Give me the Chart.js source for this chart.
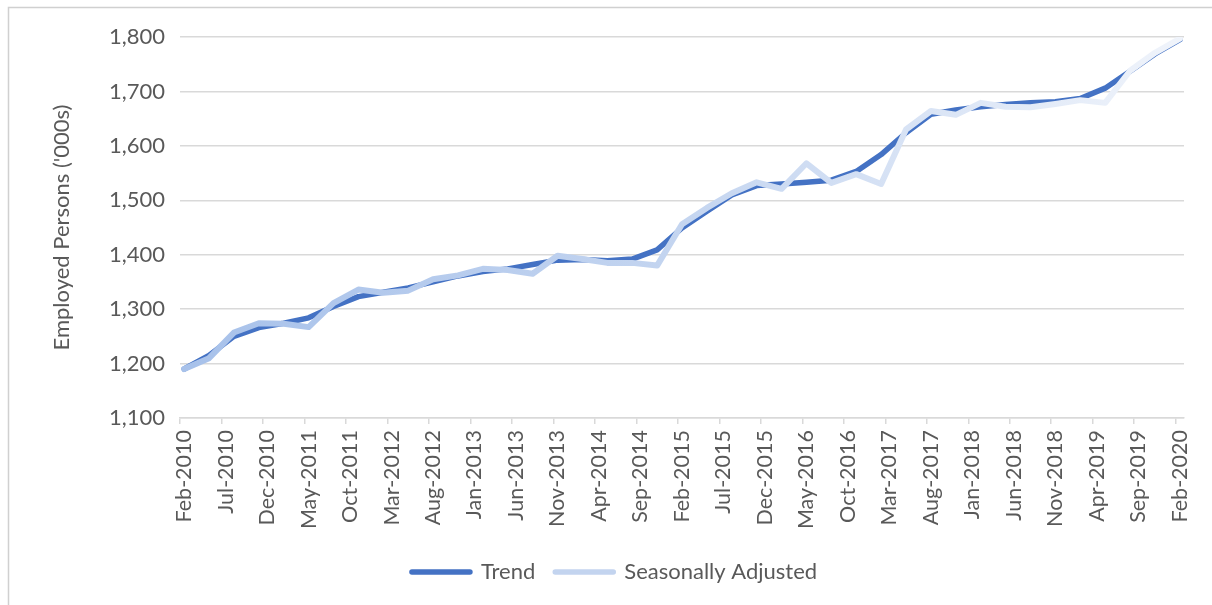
<!DOCTYPE html>
<html>
<head>
<meta charset="utf-8">
<title>Employed Persons</title>
<script src="https://cdn.jsdelivr.net/npm/chart.js@4.4.1/dist/chart.umd.min.js"></script>
<style>
  html, body { margin: 0; padding: 0; background: #ffffff; }
  #wrap { position: relative; width: 1212px; height: 605px; }
  canvas { display: block; }
</style>
</head>
<body>
<div id="wrap"><canvas id="chart" width="1212" height="605"></canvas></div>
<script>
// Monthly category axis, Feb-2010 to Feb-2020
const MONTH_NAMES = ['Jan', 'Feb', 'Mar', 'Apr', 'May', 'Jun', 'Jul', 'Aug', 'Sep', 'Oct', 'Nov', 'Dec'];
const months = [];
for (let yr = 2010; yr <= 2020; yr++) {
  for (let m = 0; m < 12; m++) {
    if ((yr === 2010 && m < 1) || (yr === 2020 && m > 1)) continue;
    months.push(MONTH_NAMES[m] + '-' + yr);
  }
}

// Labels shown under every fifth month
const tickLabels = [
  'Feb-2010', 'Jul-2010', 'Dec-2010', 'May-2011', 'Oct-2011', 'Mar-2012', 'Aug-2012',
  'Jan-2013', 'Jun-2013', 'Nov-2013', 'Apr-2014', 'Sep-2014', 'Feb-2015', 'Jul-2015',
  'Dec-2015', 'May-2016', 'Oct-2016', 'Mar-2017', 'Aug-2017', 'Jan-2018', 'Jun-2018',
  'Nov-2018', 'Apr-2019', 'Sep-2019', 'Feb-2020'
];

// Quarterly observation months
const quarters = [
  'Feb-2010', 'May-2010', 'Aug-2010', 'Nov-2010',
  'Feb-2011', 'May-2011', 'Aug-2011', 'Nov-2011',
  'Feb-2012', 'May-2012', 'Aug-2012', 'Nov-2012',
  'Feb-2013', 'May-2013', 'Aug-2013', 'Nov-2013',
  'Feb-2014', 'May-2014', 'Aug-2014', 'Nov-2014',
  'Feb-2015', 'May-2015', 'Aug-2015', 'Nov-2015',
  'Feb-2016', 'May-2016', 'Aug-2016', 'Nov-2016',
  'Feb-2017', 'May-2017', 'Aug-2017', 'Nov-2017',
  'Feb-2018', 'May-2018', 'Aug-2018', 'Nov-2018',
  'Feb-2019', 'May-2019', 'Aug-2019', 'Nov-2019',
  'Feb-2020'
];

// Employed persons ('000s)
const trend = [
  1190, 1215, 1250, 1266,
  1274, 1284, 1305, 1323,
  1331, 1339, 1350, 1361,
  1369, 1374, 1382, 1390,
  1391, 1389, 1392, 1409,
  1449, 1480, 1510, 1527,
  1530, 1533, 1537, 1553,
  1584, 1624, 1658, 1666,
  1672, 1676, 1679, 1681,
  1687, 1706, 1737, 1769,
  1795
];

const seasonallyAdjusted = [
  1190, 1210, 1257, 1274,
  1273, 1267, 1311, 1336,
  1330, 1334, 1355, 1362,
  1374, 1372, 1365, 1398,
  1392, 1385, 1385, 1380,
  1456, 1486, 1513, 1533,
  1521, 1568, 1532, 1548,
  1530, 1630, 1664, 1657,
  1679, 1672, 1671, 1677,
  1684, 1679, 1738, 1771,
  1797
];

const FONT = 'Lato, "Liberation Sans", sans-serif';
const TEXT = '#595959';
const GRID = '#d9d9d9';
const TREND_COLOR = '#4472c4';
const SA_SWATCH = '#c3d4ef';

// Light-blue line fading towards white from left to right
function saGradient(context) {
  const chart = context.chart;
  const area = chart.chartArea;
  if (!area) return SA_SWATCH;
  const g = chart.ctx.createLinearGradient(area.left, 0, area.right, 0);
  g.addColorStop(0, '#a7c1ea');
  g.addColorStop(0.5, '#c4d5f0');
  g.addColorStop(1, '#f0f4fb');
  return g;
}

// White page with a thin frame along the top and left edges
const framePlugin = {
  id: 'frame',
  beforeDraw(chart) {
    const c = chart.ctx;
    c.save();
    c.fillStyle = '#ffffff';
    c.fillRect(0, 0, chart.width, chart.height);
    c.strokeStyle = '#d0d0d0';
    c.lineWidth = 1.5;
    c.beginPath();
    c.moveTo(8.5, chart.height);
    c.lineTo(8.5, 7.5);
    c.lineTo(chart.width, 7.5);
    c.stroke();
    c.restore();
  }
};

new Chart(document.getElementById('chart'), {
  type: 'line',
  data: {
    labels: months,
    datasets: [
      {
        label: 'Trend',
        data: quarters.map((q, i) => ({ x: q, y: trend[i] })),
        borderColor: TREND_COLOR,
        borderWidth: 5.5,
        borderCapStyle: 'round',
        borderJoinStyle: 'round',
        pointRadius: 0,
        tension: 0,
        order: 1
      },
      {
        label: 'Seasonally Adjusted',
        data: quarters.map((q, i) => ({ x: q, y: seasonallyAdjusted[i] })),
        borderColor: saGradient,
        borderWidth: 6,
        borderCapStyle: 'round',
        borderJoinStyle: 'round',
        pointRadius: 0,
        tension: 0,
        order: 0
      }
    ]
  },
  options: {
    responsive: false,
    animation: false,
    devicePixelRatio: 1,
    layout: { padding: { left: 17, right: 0, top: 37, bottom: 12 } },
    plugins: {
      tooltip: { enabled: false },
      legend: {
        position: 'bottom',
        labels: {
          usePointStyle: true,
          pointStyleWidth: 58,
          padding: 20,
          color: TEXT,
          font: { family: FONT, size: 22 },
          generateLabels(chart) {
            const swatches = [TREND_COLOR, SA_SWATCH];
            return chart.data.datasets.map((ds, i) => ({
              text: ds.label,
              pointStyle: 'line',
              strokeStyle: swatches[i],
              fillStyle: swatches[i],
              lineWidth: 5.5,
              lineCap: 'round',
              fontColor: TEXT,
              hidden: false,
              datasetIndex: i
            }));
          }
        }
      }
    },
    scales: {
      x: {
        type: 'category',
        offset: true,
        grid: {
          offset: true,
          drawOnChartArea: false,
          drawTicks: true,
          tickLength: 6,
          lineWidth: 1.5,
          color: GRID,
          tickColor: (ctx) => (ctx.index % 5 === 0 ? GRID : 'rgba(0,0,0,0)')
        },
        border: { display: true, color: GRID, width: 1.5 },
        ticks: {
          autoSkip: false,
          minRotation: 90,
          maxRotation: 90,
          padding: 6,
          color: TEXT,
          font: { family: FONT, size: 21.5 },
          callback: (value, index) => (index % 5 === 0 ? tickLabels[index / 5] : '')
        },
        afterFit(scale) { scale.height = 123; }
      },
      y: {
        min: 1100,
        max: 1800,
        ticks: {
          stepSize: 100,
          padding: 15,
          color: TEXT,
          font: { family: FONT, size: 22 },
          callback: (v) => v.toLocaleString('en-US')
        },
        grid: { color: GRID, lineWidth: 1.5, drawTicks: false },
        border: { display: false },
        title: {
          display: true,
          text: "Employed Persons ('000s)",
          color: TEXT,
          font: { family: FONT, size: 22 },
          padding: { top: 32, bottom: 0 }
        },
        afterFit(scale) { scale.width = 163; }
      },
      edge: {
        type: 'linear',
        position: 'right',
        display: true,
        grid: { display: false },
        ticks: { display: false },
        border: { display: false },
        afterFit(scale) { scale.width = 28; }
      }
    }
  },
  plugins: [framePlugin]
});
</script>
</body>
</html>
